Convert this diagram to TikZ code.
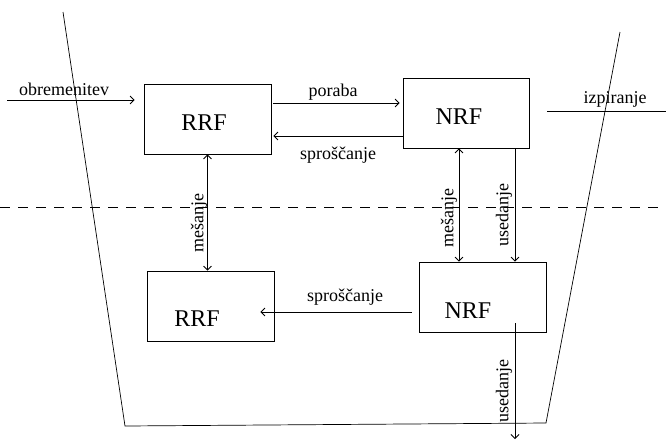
\documentclass[tikz,border=0pt]{standalone}
\usepackage{fontspec}
\setmainfont{Liberation Serif}
\usetikzlibrary{arrows.meta}
\begin{document}
\begin{tikzpicture}[x=1pt,y=-1pt,
  line width=0.8pt,
  box/.style={draw, minimum width=127pt, minimum height=70pt, inner sep=0pt},
  big/.style={font=\fontsize{24}{28}\selectfont, inner sep=0pt},
  lbl/.style={font=\fontsize{18}{21}\selectfont, inner sep=0pt},
  arr/.style={-{Straight Barb[length=4pt,width=8pt]}},
  darr/.style={{Straight Barb[length=4pt,width=8pt]}-{Straight Barb[length=4pt,width=8pt]}}]
\useasboundingbox (0,0) rectangle (666,440);

% basin outline
\coordinate (b1) at (63,12);
\coordinate (b2) at (125,426);
\coordinate (b3) at (546,423);
\coordinate (b4) at (620,32);
\draw[line width=0.7pt] (b1) -- (b2) -- (b3) -- (b4);

% water / sediment boundary
\coordinate (d1) at (0,207);
\coordinate (d2) at (666,207);
\draw[dashed, dash pattern=on 10pt off 8pt, line width=0.7pt] (d1) -- (d2);

% compartments
\node[box] (rrf1) at (207.5,119) {};
\node[box, minimum width=126pt] (nrf1) at (466,113) {};
\node[box] (rrf2) at (210.5,306) {};
\node[box] (nrf2) at (482.5,297) {};
\node[big] (trrf1) at (204,123) {RRF};
\node[big] (tnrf1) at (459,117) {NRF};
\node[big] (trrf2) at (197,319) {RRF};
\node[big] (tnrf2) at (468,311) {NRF};

% loading
\coordinate (ob) at (7,100);
\draw[arr, shorten >=9pt] (ob) -- (ob -| rrf1.west);
\node[lbl] (lob) at (64,89) {obremenitev};

% consumption and release between the upper boxes
\coordinate (p1) at ([yshift=16pt]rrf1.east);
\draw[arr, shorten <=2pt, shorten >=3pt] (p1) -- (p1 -| nrf1.west);
\node[lbl] (lpor) at (333,92) {poraba};
\coordinate (s1) at ([yshift=-23pt]nrf1.west);
\draw[arr, shorten >=2pt] (s1) -- (s1 -| rrf1.east);
\node[lbl] (lsp1) at (338,155) {sproščanje};

% washout
\coordinate (iz1) at (547,111);
\coordinate (iz2) at (666,111);
\draw (iz1) -- (iz2);
\node[lbl] (liz) at (615,99) {izpiranje};

% vertical exchange
\draw[darr] (rrf1.south) -- (rrf1.south |- rrf2.north);
\node[lbl, rotate=90] (lme1) at (199,223) {mešanje};
\coordinate (m2) at ([xshift=-7pt]nrf1.south);
\draw[darr] (m2) -- (m2 |- nrf2.north);
\node[lbl, rotate=90] (lme2) at (449,218) {mešanje};
\coordinate (u1) at ([xshift=49pt]nrf1.south);
\draw[arr] (u1) -- (u1 |- nrf2.north);
\node[lbl, rotate=90] (lus1) at (504,215) {usedanje};

% release in the sediment (arrow reaches into the box)
\coordinate (s2) at ([yshift=-15pt]nrf2.west);
\draw[arr, shorten <=7pt, shorten >=-14pt] (s2) -- (s2 -| rrf2.east);
\node[lbl] (lsp2) at (345,297) {sproščanje};

% burial
\coordinate (u2) at (515,323);
\coordinate (u2e) at (515,439);
\draw[arr] (u2) -- (u2e);
\node[lbl, rotate=90] (lus2) at (504,391) {usedanje};
\end{tikzpicture}
\end{document}
